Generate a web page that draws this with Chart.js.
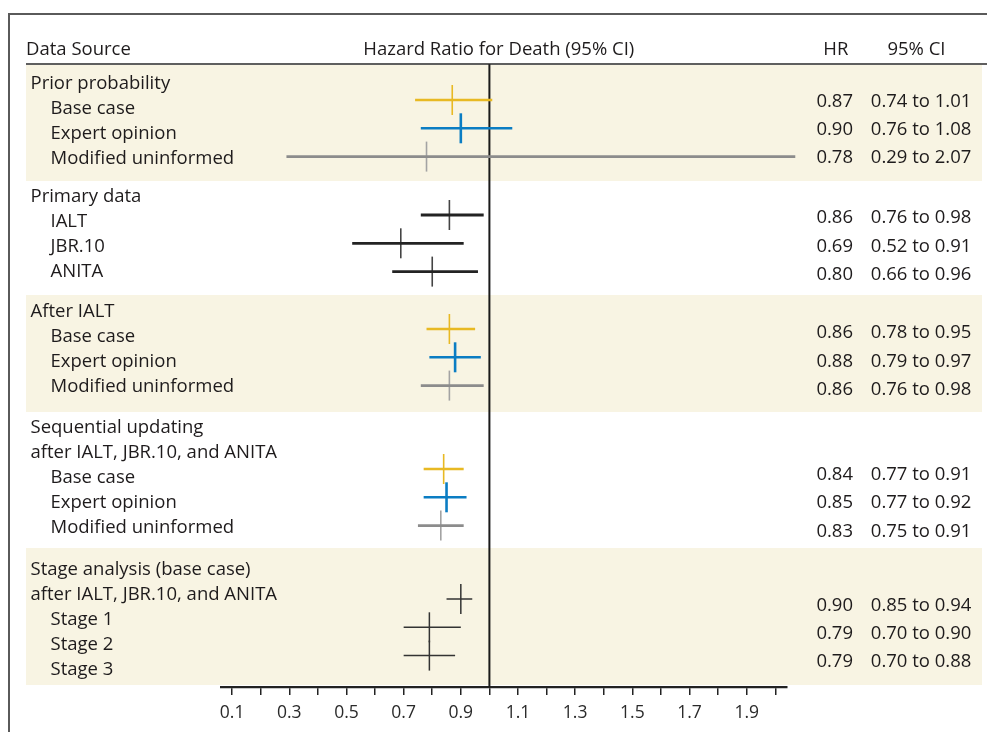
<!DOCTYPE html>
<html><head><meta charset="utf-8">
<script src="https://cdn.jsdelivr.net/npm/chart.js@4/dist/chart.umd.min.js"></script>
<style>html,body{margin:0;padding:0;background:#fff;overflow:hidden}</style>
</head><body>
<canvas id="c" width="987" height="732"></canvas>
<script>
// ---------- data ----------
const groupTitles = [
  ["Prior probability"],
  ["Primary data"],
  ["After IALT"],
  ["Sequential updating", "after IALT, JBR.10, and ANITA"],
  ["Stage analysis (base case)", "after IALT, JBR.10, and ANITA"]
];
const rowLabels = [
  ["Base case", "Expert opinion", "Modified uninformed"],
  ["IALT", "JBR.10", "ANITA"],
  ["Base case", "Expert opinion", "Modified uninformed"],
  ["Base case", "Expert opinion", "Modified uninformed"],
  ["Stage 1", "Stage 2", "Stage 3"]
];
const rowKinds = [
  ["base", "expert", "modified"],
  ["trial", "trial", "trial"],
  ["base", "expert", "modified"],
  ["base", "expert", "modified"],
  ["stage", "stage", "stage"]
];
const hrValues = [[0.87, 0.90, 0.78], [0.86, 0.69, 0.80], [0.86, 0.88, 0.86], [0.84, 0.85, 0.83], [0.90, 0.79, 0.79]];
const ciLow    = [[0.74, 0.76, 0.29], [0.76, 0.52, 0.66], [0.78, 0.79, 0.76], [0.77, 0.77, 0.75], [0.85, 0.70, 0.70]];
const ciHigh   = [[1.01, 1.08, 2.07], [0.98, 0.91, 0.96], [0.95, 0.97, 0.98], [0.91, 0.92, 0.91], [0.94, 0.90, 0.88]];
const xTickValues = [0.1, 0.2, 0.3, 0.4, 0.5, 0.6, 0.7, 0.8, 0.9, 1.0, 1.1, 1.2, 1.3, 1.4, 1.5, 1.6, 1.7, 1.8, 1.9, 2.0];
const xTickLabels = ["0.1", "", "0.3", "", "0.5", "", "0.7", "", "0.9", "", "1.1", "", "1.3", "", "1.5", "", "1.7", "", "1.9", ""];
const headerTexts = ["Data Source", "Hazard Ratio for Death (95% CI)", "HR", "95% CI"];
const referenceValue = 1.0;

// ---------- styles & layout ----------
const kindStyle = {
  base:     { color: "#E8B923", line: 2.6, tick: 1.6, tickColor: "#E8B923" },
  expert:   { color: "#0B7DC3", line: 2.6, tick: 2.6, tickColor: "#0B7DC3" },
  modified: { color: "#8C8C8C", line: 2.6, tick: 1.6, tickColor: "#A3A3A3" },
  trial:    { color: "#232323", line: 2.8, tick: 1.6, tickColor: "#444" },
  stage:    { color: "#333333", line: 1.5, tick: 1.5, tickColor: "#333" }
};
const FONT = '"Open Sans", "Noto Sans", sans-serif';
const TXT = "#1E1B1C";
const BEIGE = "#F8F4E3";
const Y_SPAN = 622;
const bandTop = [0, 116, 230, 347, 483];
const bandEnd = 620;
const labelFirst = [24, 21.3, 21.7, 21.3, 27], labelPitch = 25;
const markFirst = [35, 34, 34, 57, 51], markPitch = 28.3;
const textFirst = [41.7, 42.3, 43.3, 68, 62.7];

// ---------- datasets ----------
const datasets = [];
hrValues.forEach((grp, g) => grp.forEach((v, i) => {
  const st = kindStyle[rowKinds[g][i]];
  const yv = bandTop[g] + markFirst[g] + markPitch * i;
  datasets.push({
    type: "line", data: [{ x: ciLow[g][i], y: yv }, { x: ciHigh[g][i], y: yv }],
    borderColor: st.color, borderWidth: st.line, pointRadius: 0, pointHoverRadius: 0,
    fill: false, clip: false, borderCapStyle: "butt"
  });
  datasets.push({
    type: "scatter", data: [{ x: v, y: yv }],
    pointStyle: "line", pointRadius: 15, pointHoverRadius: 15, pointRotation: 90,
    pointBorderColor: st.tickColor, pointBackgroundColor: st.tickColor, pointBorderWidth: st.tick,
    clip: false
  });
}));
datasets.push({
  type: "line", data: [{ x: referenceValue, y: -1 }, { x: referenceValue, y: Y_SPAN }],
  borderColor: "#1A1A1A", borderWidth: 2, pointRadius: 0, pointHoverRadius: 0, clip: false
});

// ---------- decoration plugin ----------
const deco = {
  id: "deco",
  beforeDraw(chart) {
    const ctx = chart.ctx, ys = chart.scales.y;
    ctx.save();
    ctx.fillStyle = BEIGE;
    bandTop.forEach((t, g) => {
      if (g % 2 !== 0) return;
      const end = g + 1 < bandTop.length ? bandTop[g + 1] : bandEnd;
      const p0 = ys.getPixelForValue(t), p1 = ys.getPixelForValue(end);
      ctx.fillRect(26, p0, 982 - 26, p1 - p0);
    });
    ctx.restore();
  },
  afterDraw(chart) {
    const ctx = chart.ctx, ys = chart.scales.y;
    ctx.save();
    // frame
    ctx.strokeStyle = "#5A5A5A"; ctx.lineWidth = 2;
    ctx.beginPath(); ctx.moveTo(9, 732); ctx.lineTo(9, 14); ctx.lineTo(987, 14); ctx.stroke();
    // header rule
    ctx.strokeStyle = "#2A2A2A"; ctx.lineWidth = 1.5;
    const hy = ys.getPixelForValue(-1);
    ctx.beginPath(); ctx.moveTo(26, hy); ctx.lineTo(987, hy); ctx.stroke();
    // header texts
    ctx.fillStyle = TXT; ctx.textBaseline = "alphabetic"; ctx.textAlign = "left";
    ctx.font = "18.5px " + FONT;
    ctx.fillText(headerTexts[0], 26, 55);
    ctx.fillText(headerTexts[1], 363.3, 55);
    ctx.fillText(headerTexts[2], 823.3, 55);
    ctx.fillText(headerTexts[3], 887.4, 55);
    // group titles and row labels
    groupTitles.forEach((titles, g) => {
      let k = 0;
      titles.forEach(t => {
        ctx.fillText(t, 30.5, ys.getPixelForValue(bandTop[g] + labelFirst[g] + labelPitch * k)); k++;
      });
      rowLabels[g].forEach(t => {
        ctx.fillText(t, 50.5, ys.getPixelForValue(bandTop[g] + labelFirst[g] + labelPitch * k)); k++;
      });
      // HR and CI text
      hrValues[g].forEach((v, i) => {
        const py = ys.getPixelForValue(bandTop[g] + textFirst[g] + markPitch * i);
        ctx.fillText(v.toFixed(2), 816.4, py);
        ctx.fillText(ciLow[g][i].toFixed(2) + " to " + ciHigh[g][i].toFixed(2), 870.8, py);
      });
    });
    ctx.restore();
  }
};

new Chart(document.getElementById("c"), {
  data: { datasets },
  options: {
    responsive: false, animation: false, devicePixelRatio: 1,
    layout: { padding: { top: 65, left: 220.7, right: 200.3, bottom: 0 } },
    plugins: { legend: { display: false }, tooltip: { enabled: false } },
    events: [],
    scales: {
      y: { type: "linear", min: 0, max: Y_SPAN, reverse: true, display: false },
      x: {
        type: "linear", min: 0.06, max: 2.04, position: "bottom",
        afterBuildTicks: s => { s.ticks = xTickValues.map(v => ({ value: v })); },
        afterFit: s => { s.height = 45; },
        ticks: {
          autoSkip: false, maxRotation: 0, minRotation: 0, padding: 8, color: "#2A2A2A",
          font: { family: FONT, size: 17.5 },
          callback: (v, i) => xTickLabels[i]
        },
        grid: { display: true, drawOnChartArea: false, drawTicks: true, tickLength: 8, color: "#222", lineWidth: 1.5 },
        border: { display: true, color: "#222", width: 2.3 }
      }
    }
  },
  plugins: [deco]
});
</script>
</body></html>
